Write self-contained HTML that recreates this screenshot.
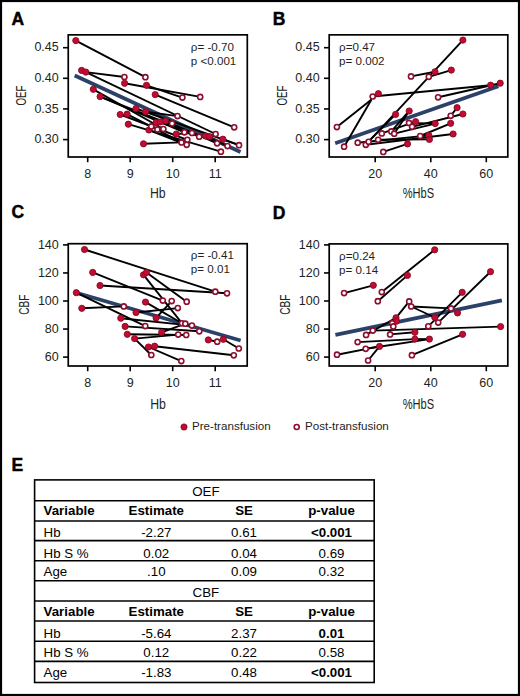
<!DOCTYPE html>
<html><head><meta charset="utf-8"><style>
html,body{margin:0;padding:0;background:#fff;}
svg{display:block;font-family:"Liberation Sans", sans-serif;}
</style></head><body>
<svg width="520" height="696" viewBox="0 0 520 696">
<rect width="520" height="696" fill="#fff"/>
<rect x="1" y="1" width="518" height="694" fill="none" stroke="#000" stroke-width="2.2"/>
<text x="11.4" y="24.9" font-size="17.5" text-anchor="start" font-weight="bold" fill="#000" stroke="#000" stroke-width="0.45">A</text>
<text x="272.7" y="24.8" font-size="17.5" text-anchor="start" font-weight="bold" fill="#000" stroke="#000" stroke-width="0.45">B</text>
<text x="11.4" y="218.0" font-size="17.5" text-anchor="start" font-weight="bold" fill="#000" stroke="#000" stroke-width="0.45">C</text>
<text x="272.7" y="218.6" font-size="17.5" text-anchor="start" font-weight="bold" fill="#000" stroke="#000" stroke-width="0.45">D</text>
<text x="11.4" y="471.4" font-size="17.5" text-anchor="start" font-weight="bold" fill="#000" stroke="#000" stroke-width="0.45">E</text>
<line x1="63.05" y1="47.7" x2="68.25" y2="47.7" stroke="#000" stroke-width="1.6"/>
<text x="58.75" y="51.3" font-size="12.5" text-anchor="end" font-weight="normal" fill="#231f20" >0.45</text>
<line x1="63.05" y1="78.3" x2="68.25" y2="78.3" stroke="#000" stroke-width="1.6"/>
<text x="58.75" y="81.9" font-size="12.5" text-anchor="end" font-weight="normal" fill="#231f20" >0.40</text>
<line x1="63.05" y1="108.95" x2="68.25" y2="108.95" stroke="#000" stroke-width="1.6"/>
<text x="58.75" y="112.55" font-size="12.5" text-anchor="end" font-weight="normal" fill="#231f20" >0.35</text>
<line x1="63.05" y1="139.6" x2="68.25" y2="139.6" stroke="#000" stroke-width="1.6"/>
<text x="58.75" y="143.2" font-size="12.5" text-anchor="end" font-weight="normal" fill="#231f20" >0.30</text>
<line x1="87.7" y1="157.0" x2="87.7" y2="162.2" stroke="#000" stroke-width="1.6"/>
<text x="87.7" y="178.0" font-size="12.5" text-anchor="middle" font-weight="normal" fill="#231f20" >8</text>
<line x1="130.2" y1="157.0" x2="130.2" y2="162.2" stroke="#000" stroke-width="1.6"/>
<text x="130.2" y="178.0" font-size="12.5" text-anchor="middle" font-weight="normal" fill="#231f20" >9</text>
<line x1="172.7" y1="157.0" x2="172.7" y2="162.2" stroke="#000" stroke-width="1.6"/>
<text x="172.7" y="178.0" font-size="12.5" text-anchor="middle" font-weight="normal" fill="#231f20" >10</text>
<line x1="215.2" y1="157.0" x2="215.2" y2="162.2" stroke="#000" stroke-width="1.6"/>
<text x="215.2" y="178.0" font-size="12.5" text-anchor="middle" font-weight="normal" fill="#231f20" >11</text>
<text x="0" y="0" font-size="15" text-anchor="middle" fill="#231f20" transform="translate(157.75,198.4) scale(0.82,1)">Hb</text>
<text x="0" y="0" font-size="15.5" text-anchor="middle" fill="#231f20" transform="translate(26.3,95.5) rotate(-90) scale(0.63,1)">OEF</text>
<text x="190.85" y="51.15" font-size="11.6" text-anchor="start" font-weight="normal" fill="#231f20" >ρ= -0.70</text>
<text x="190.85" y="65.05" font-size="11.6" text-anchor="start" font-weight="normal" fill="#231f20" >p &lt;0.001</text>
<line x1="324.0" y1="47.7" x2="329.2" y2="47.7" stroke="#000" stroke-width="1.6"/>
<text x="319.7" y="51.3" font-size="12.5" text-anchor="end" font-weight="normal" fill="#231f20" >0.45</text>
<line x1="324.0" y1="78.3" x2="329.2" y2="78.3" stroke="#000" stroke-width="1.6"/>
<text x="319.7" y="81.9" font-size="12.5" text-anchor="end" font-weight="normal" fill="#231f20" >0.40</text>
<line x1="324.0" y1="108.95" x2="329.2" y2="108.95" stroke="#000" stroke-width="1.6"/>
<text x="319.7" y="112.55" font-size="12.5" text-anchor="end" font-weight="normal" fill="#231f20" >0.35</text>
<line x1="324.0" y1="139.6" x2="329.2" y2="139.6" stroke="#000" stroke-width="1.6"/>
<text x="319.7" y="143.2" font-size="12.5" text-anchor="end" font-weight="normal" fill="#231f20" >0.30</text>
<line x1="375.2" y1="157.0" x2="375.2" y2="162.2" stroke="#000" stroke-width="1.6"/>
<text x="375.2" y="178.0" font-size="12.5" text-anchor="middle" font-weight="normal" fill="#231f20" >20</text>
<line x1="430.8" y1="157.0" x2="430.8" y2="162.2" stroke="#000" stroke-width="1.6"/>
<text x="430.8" y="178.0" font-size="12.5" text-anchor="middle" font-weight="normal" fill="#231f20" >40</text>
<line x1="486.3" y1="157.0" x2="486.3" y2="162.2" stroke="#000" stroke-width="1.6"/>
<text x="486.3" y="178.0" font-size="12.5" text-anchor="middle" font-weight="normal" fill="#231f20" >60</text>
<text x="0" y="0" font-size="15" text-anchor="middle" fill="#231f20" transform="translate(418.4,198.4) scale(0.74,1)">%HbS</text>
<text x="0" y="0" font-size="15.5" text-anchor="middle" fill="#231f20" transform="translate(287.3,95.5) rotate(-90) scale(0.63,1)">OEF</text>
<text x="339.1" y="51.15" font-size="11.6" text-anchor="start" font-weight="normal" fill="#231f20" >ρ=0.47</text>
<text x="339.1" y="65.05" font-size="11.6" text-anchor="start" font-weight="normal" fill="#231f20" >p= 0.002</text>
<line x1="63.05" y1="244.9" x2="68.25" y2="244.9" stroke="#000" stroke-width="1.6"/>
<text x="58.75" y="248.5" font-size="12.5" text-anchor="end" font-weight="normal" fill="#231f20" >140</text>
<line x1="63.05" y1="272.95" x2="68.25" y2="272.95" stroke="#000" stroke-width="1.6"/>
<text x="58.75" y="276.55" font-size="12.5" text-anchor="end" font-weight="normal" fill="#231f20" >120</text>
<line x1="63.05" y1="301.0" x2="68.25" y2="301.0" stroke="#000" stroke-width="1.6"/>
<text x="58.75" y="304.6" font-size="12.5" text-anchor="end" font-weight="normal" fill="#231f20" >100</text>
<line x1="63.05" y1="329.05" x2="68.25" y2="329.05" stroke="#000" stroke-width="1.6"/>
<text x="58.75" y="332.65" font-size="12.5" text-anchor="end" font-weight="normal" fill="#231f20" >80</text>
<line x1="63.05" y1="357.1" x2="68.25" y2="357.1" stroke="#000" stroke-width="1.6"/>
<text x="58.75" y="360.7" font-size="12.5" text-anchor="end" font-weight="normal" fill="#231f20" >60</text>
<line x1="87.7" y1="366.0" x2="87.7" y2="371.2" stroke="#000" stroke-width="1.6"/>
<text x="87.7" y="387.0" font-size="12.5" text-anchor="middle" font-weight="normal" fill="#231f20" >8</text>
<line x1="130.2" y1="366.0" x2="130.2" y2="371.2" stroke="#000" stroke-width="1.6"/>
<text x="130.2" y="387.0" font-size="12.5" text-anchor="middle" font-weight="normal" fill="#231f20" >9</text>
<line x1="172.7" y1="366.0" x2="172.7" y2="371.2" stroke="#000" stroke-width="1.6"/>
<text x="172.7" y="387.0" font-size="12.5" text-anchor="middle" font-weight="normal" fill="#231f20" >10</text>
<line x1="215.2" y1="366.0" x2="215.2" y2="371.2" stroke="#000" stroke-width="1.6"/>
<text x="215.2" y="387.0" font-size="12.5" text-anchor="middle" font-weight="normal" fill="#231f20" >11</text>
<text x="0" y="0" font-size="15" text-anchor="middle" fill="#231f20" transform="translate(158.0,408.6) scale(0.82,1)">Hb</text>
<text x="0" y="0" font-size="15.5" text-anchor="middle" fill="#231f20" transform="translate(29.3,304.75) rotate(-90) scale(0.65,1)">CBF</text>
<text x="190.85" y="259.4" font-size="11.6" text-anchor="start" font-weight="normal" fill="#231f20" >ρ= -0.41</text>
<text x="190.85" y="273.3" font-size="11.6" text-anchor="start" font-weight="normal" fill="#231f20" >p= 0.01</text>
<line x1="324.0" y1="244.9" x2="329.2" y2="244.9" stroke="#000" stroke-width="1.6"/>
<text x="319.7" y="248.5" font-size="12.5" text-anchor="end" font-weight="normal" fill="#231f20" >140</text>
<line x1="324.0" y1="272.95" x2="329.2" y2="272.95" stroke="#000" stroke-width="1.6"/>
<text x="319.7" y="276.55" font-size="12.5" text-anchor="end" font-weight="normal" fill="#231f20" >120</text>
<line x1="324.0" y1="301.0" x2="329.2" y2="301.0" stroke="#000" stroke-width="1.6"/>
<text x="319.7" y="304.6" font-size="12.5" text-anchor="end" font-weight="normal" fill="#231f20" >100</text>
<line x1="324.0" y1="329.05" x2="329.2" y2="329.05" stroke="#000" stroke-width="1.6"/>
<text x="319.7" y="332.65" font-size="12.5" text-anchor="end" font-weight="normal" fill="#231f20" >80</text>
<line x1="324.0" y1="357.1" x2="329.2" y2="357.1" stroke="#000" stroke-width="1.6"/>
<text x="319.7" y="360.7" font-size="12.5" text-anchor="end" font-weight="normal" fill="#231f20" >60</text>
<line x1="375.2" y1="366.0" x2="375.2" y2="371.2" stroke="#000" stroke-width="1.6"/>
<text x="375.2" y="387.0" font-size="12.5" text-anchor="middle" font-weight="normal" fill="#231f20" >20</text>
<line x1="430.8" y1="366.0" x2="430.8" y2="371.2" stroke="#000" stroke-width="1.6"/>
<text x="430.8" y="387.0" font-size="12.5" text-anchor="middle" font-weight="normal" fill="#231f20" >40</text>
<line x1="486.3" y1="366.0" x2="486.3" y2="371.2" stroke="#000" stroke-width="1.6"/>
<text x="486.3" y="387.0" font-size="12.5" text-anchor="middle" font-weight="normal" fill="#231f20" >60</text>
<text x="0" y="0" font-size="15" text-anchor="middle" fill="#231f20" transform="translate(418.4,408.6) scale(0.74,1)">%HbS</text>
<text x="0" y="0" font-size="15.5" text-anchor="middle" fill="#231f20" transform="translate(290.3,304.75) rotate(-90) scale(0.65,1)">CBF</text>
<text x="339.1" y="259.6" font-size="11.6" text-anchor="start" font-weight="normal" fill="#231f20" >ρ=0.24</text>
<text x="339.1" y="273.5" font-size="11.6" text-anchor="start" font-weight="normal" fill="#231f20" >p= 0.14</text>
<line x1="74.7" y1="75.6" x2="240.5" y2="151.9" stroke="#2b4168" stroke-width="3.8"/>
<line x1="75.8" y1="40.6" x2="145.4" y2="77.2" stroke="#000" stroke-width="1.9"/>
<line x1="85.8" y1="72.1" x2="124.4" y2="77.0" stroke="#000" stroke-width="1.9"/>
<line x1="85.8" y1="72.1" x2="215.6" y2="134.0" stroke="#000" stroke-width="1.9"/>
<line x1="124.6" y1="83.3" x2="200.2" y2="96.9" stroke="#000" stroke-width="1.9"/>
<line x1="146.5" y1="85.3" x2="182.4" y2="97.6" stroke="#000" stroke-width="1.9"/>
<line x1="155.2" y1="94.6" x2="234.2" y2="127.3" stroke="#000" stroke-width="1.9"/>
<line x1="93.3" y1="89.3" x2="163.4" y2="129.0" stroke="#000" stroke-width="1.9"/>
<line x1="100.1" y1="96.6" x2="184.4" y2="132.3" stroke="#000" stroke-width="1.9"/>
<line x1="100.1" y1="96.6" x2="192.0" y2="133.0" stroke="#000" stroke-width="1.9"/>
<line x1="135.9" y1="108.5" x2="239.0" y2="145.2" stroke="#000" stroke-width="1.9"/>
<line x1="145.6" y1="111.7" x2="177.5" y2="116.1" stroke="#000" stroke-width="1.9"/>
<line x1="120.2" y1="114.5" x2="187.3" y2="139.8" stroke="#000" stroke-width="1.9"/>
<line x1="127.1" y1="114.1" x2="181.5" y2="142.4" stroke="#000" stroke-width="1.9"/>
<line x1="128.3" y1="124.2" x2="220.9" y2="151.7" stroke="#000" stroke-width="1.9"/>
<line x1="148.9" y1="130.0" x2="186.7" y2="144.8" stroke="#000" stroke-width="1.9"/>
<line x1="143.5" y1="143.8" x2="181.5" y2="142.4" stroke="#000" stroke-width="1.9"/>
<line x1="156.1" y1="122.5" x2="172.1" y2="123.4" stroke="#000" stroke-width="1.9"/>
<line x1="160.5" y1="121.9" x2="199.2" y2="136.7" stroke="#000" stroke-width="1.9"/>
<line x1="165.6" y1="120.8" x2="217.1" y2="143.3" stroke="#000" stroke-width="1.9"/>
<line x1="176.3" y1="134.0" x2="192.0" y2="133.0" stroke="#000" stroke-width="1.9"/>
<line x1="209.5" y1="136.6" x2="215.6" y2="134.0" stroke="#000" stroke-width="1.9"/>
<line x1="205.5" y1="136.0" x2="227.5" y2="146.1" stroke="#000" stroke-width="1.9"/>
<line x1="222.9" y1="139.2" x2="239.0" y2="145.2" stroke="#000" stroke-width="1.9"/>
<circle cx="75.8" cy="40.6" r="3.1" fill="#c20b33" stroke="#86091f" stroke-width="0.9"/>
<circle cx="81.6" cy="70.4" r="3.1" fill="#c20b33" stroke="#86091f" stroke-width="0.9"/>
<circle cx="85.8" cy="72.1" r="3.1" fill="#c20b33" stroke="#86091f" stroke-width="0.9"/>
<circle cx="93.3" cy="89.3" r="3.1" fill="#c20b33" stroke="#86091f" stroke-width="0.9"/>
<circle cx="100.1" cy="96.6" r="3.1" fill="#c20b33" stroke="#86091f" stroke-width="0.9"/>
<circle cx="124.6" cy="83.3" r="3.1" fill="#c20b33" stroke="#86091f" stroke-width="0.9"/>
<circle cx="146.5" cy="85.3" r="3.1" fill="#c20b33" stroke="#86091f" stroke-width="0.9"/>
<circle cx="155.2" cy="94.6" r="3.1" fill="#c20b33" stroke="#86091f" stroke-width="0.9"/>
<circle cx="135.9" cy="108.5" r="3.1" fill="#c20b33" stroke="#86091f" stroke-width="0.9"/>
<circle cx="145.6" cy="111.7" r="3.1" fill="#c20b33" stroke="#86091f" stroke-width="0.9"/>
<circle cx="120.2" cy="114.5" r="3.1" fill="#c20b33" stroke="#86091f" stroke-width="0.9"/>
<circle cx="127.1" cy="114.1" r="3.1" fill="#c20b33" stroke="#86091f" stroke-width="0.9"/>
<circle cx="128.3" cy="124.2" r="3.1" fill="#c20b33" stroke="#86091f" stroke-width="0.9"/>
<circle cx="148.9" cy="130.0" r="3.1" fill="#c20b33" stroke="#86091f" stroke-width="0.9"/>
<circle cx="143.5" cy="143.8" r="3.1" fill="#c20b33" stroke="#86091f" stroke-width="0.9"/>
<circle cx="156.1" cy="122.5" r="3.1" fill="#c20b33" stroke="#86091f" stroke-width="0.9"/>
<circle cx="160.5" cy="121.9" r="3.1" fill="#c20b33" stroke="#86091f" stroke-width="0.9"/>
<circle cx="165.6" cy="120.8" r="3.1" fill="#c20b33" stroke="#86091f" stroke-width="0.9"/>
<circle cx="176.3" cy="134.0" r="3.1" fill="#c20b33" stroke="#86091f" stroke-width="0.9"/>
<circle cx="205.5" cy="136.0" r="3.1" fill="#c20b33" stroke="#86091f" stroke-width="0.9"/>
<circle cx="209.5" cy="136.6" r="3.1" fill="#c20b33" stroke="#86091f" stroke-width="0.9"/>
<circle cx="222.9" cy="139.2" r="3.1" fill="#c20b33" stroke="#86091f" stroke-width="0.9"/>
<circle cx="124.4" cy="77.0" r="2.55" fill="#fff" stroke="#8c0f2f" stroke-width="1.6"/>
<circle cx="145.4" cy="77.2" r="2.55" fill="#fff" stroke="#8c0f2f" stroke-width="1.6"/>
<circle cx="182.4" cy="97.6" r="2.55" fill="#fff" stroke="#8c0f2f" stroke-width="1.6"/>
<circle cx="200.2" cy="96.9" r="2.55" fill="#fff" stroke="#8c0f2f" stroke-width="1.6"/>
<circle cx="177.5" cy="116.1" r="2.55" fill="#fff" stroke="#8c0f2f" stroke-width="1.6"/>
<circle cx="234.2" cy="127.3" r="2.55" fill="#fff" stroke="#8c0f2f" stroke-width="1.6"/>
<circle cx="172.1" cy="123.4" r="2.55" fill="#fff" stroke="#8c0f2f" stroke-width="1.6"/>
<circle cx="151.3" cy="126.4" r="2.55" fill="#fff" stroke="#8c0f2f" stroke-width="1.6"/>
<circle cx="157.4" cy="129.4" r="2.55" fill="#fff" stroke="#8c0f2f" stroke-width="1.6"/>
<circle cx="163.4" cy="129.0" r="2.55" fill="#fff" stroke="#8c0f2f" stroke-width="1.6"/>
<circle cx="184.4" cy="132.3" r="2.55" fill="#fff" stroke="#8c0f2f" stroke-width="1.6"/>
<circle cx="192.0" cy="133.0" r="2.55" fill="#fff" stroke="#8c0f2f" stroke-width="1.6"/>
<circle cx="199.2" cy="136.7" r="2.55" fill="#fff" stroke="#8c0f2f" stroke-width="1.6"/>
<circle cx="187.3" cy="139.8" r="2.55" fill="#fff" stroke="#8c0f2f" stroke-width="1.6"/>
<circle cx="181.5" cy="142.4" r="2.55" fill="#fff" stroke="#8c0f2f" stroke-width="1.6"/>
<circle cx="186.7" cy="144.8" r="2.55" fill="#fff" stroke="#8c0f2f" stroke-width="1.6"/>
<circle cx="215.6" cy="134.0" r="2.55" fill="#fff" stroke="#8c0f2f" stroke-width="1.6"/>
<circle cx="217.1" cy="143.3" r="2.55" fill="#fff" stroke="#8c0f2f" stroke-width="1.6"/>
<circle cx="227.5" cy="146.1" r="2.55" fill="#fff" stroke="#8c0f2f" stroke-width="1.6"/>
<circle cx="239.0" cy="145.2" r="2.55" fill="#fff" stroke="#8c0f2f" stroke-width="1.6"/>
<circle cx="220.9" cy="151.7" r="2.55" fill="#fff" stroke="#8c0f2f" stroke-width="1.6"/>
<line x1="335.2" y1="143.3" x2="498.4" y2="86.3" stroke="#2b4168" stroke-width="3.8"/>
<line x1="411.0" y1="76.4" x2="435.0" y2="71.8" stroke="#000" stroke-width="1.9"/>
<line x1="428.8" y1="76.8" x2="451.3" y2="70.1" stroke="#000" stroke-width="1.9"/>
<line x1="462.9" y1="40.1" x2="368.5" y2="141.8" stroke="#000" stroke-width="1.9"/>
<line x1="372.7" y1="96.5" x2="490.6" y2="85.2" stroke="#000" stroke-width="1.9"/>
<line x1="336.9" y1="127.1" x2="371.5" y2="99.5" stroke="#000" stroke-width="1.9"/>
<line x1="344.1" y1="146.7" x2="371.5" y2="99.5" stroke="#000" stroke-width="1.9"/>
<line x1="378.4" y1="93.7" x2="372.7" y2="96.5" stroke="#000" stroke-width="1.9"/>
<line x1="438.1" y1="97.3" x2="500.2" y2="83.2" stroke="#000" stroke-width="1.9"/>
<line x1="395.6" y1="114.4" x2="365.8" y2="144.2" stroke="#000" stroke-width="1.9"/>
<line x1="409.2" y1="111.0" x2="391.3" y2="131.4" stroke="#000" stroke-width="1.9"/>
<line x1="415.6" y1="121.7" x2="381.8" y2="133.4" stroke="#000" stroke-width="1.9"/>
<line x1="435.2" y1="123.6" x2="394.2" y2="133.7" stroke="#000" stroke-width="1.9"/>
<line x1="457.1" y1="107.7" x2="450.7" y2="115.8" stroke="#000" stroke-width="1.9"/>
<line x1="462.9" y1="114.0" x2="412.1" y2="126.8" stroke="#000" stroke-width="1.9"/>
<line x1="435.2" y1="123.6" x2="409.0" y2="122.9" stroke="#000" stroke-width="1.9"/>
<line x1="409.2" y1="111.0" x2="394.2" y2="133.7" stroke="#000" stroke-width="1.9"/>
<line x1="450.7" y1="123.3" x2="420.2" y2="136.0" stroke="#000" stroke-width="1.9"/>
<line x1="453.1" y1="134.0" x2="365.8" y2="144.8" stroke="#000" stroke-width="1.9"/>
<line x1="428.8" y1="135.4" x2="357.7" y2="142.7" stroke="#000" stroke-width="1.9"/>
<line x1="429.4" y1="139.4" x2="378.1" y2="139.8" stroke="#000" stroke-width="1.9"/>
<line x1="407.5" y1="143.9" x2="383.3" y2="151.9" stroke="#000" stroke-width="1.9"/>
<circle cx="462.9" cy="40.1" r="3.1" fill="#c20b33" stroke="#86091f" stroke-width="0.9"/>
<circle cx="435.0" cy="71.8" r="3.1" fill="#c20b33" stroke="#86091f" stroke-width="0.9"/>
<circle cx="451.3" cy="70.1" r="3.1" fill="#c20b33" stroke="#86091f" stroke-width="0.9"/>
<circle cx="378.4" cy="93.7" r="3.1" fill="#c20b33" stroke="#86091f" stroke-width="0.9"/>
<circle cx="490.6" cy="85.2" r="3.1" fill="#c20b33" stroke="#86091f" stroke-width="0.9"/>
<circle cx="500.2" cy="83.2" r="3.1" fill="#c20b33" stroke="#86091f" stroke-width="0.9"/>
<circle cx="395.6" cy="114.4" r="3.1" fill="#c20b33" stroke="#86091f" stroke-width="0.9"/>
<circle cx="409.2" cy="111.0" r="3.1" fill="#c20b33" stroke="#86091f" stroke-width="0.9"/>
<circle cx="457.1" cy="107.7" r="3.1" fill="#c20b33" stroke="#86091f" stroke-width="0.9"/>
<circle cx="462.9" cy="114.0" r="3.1" fill="#c20b33" stroke="#86091f" stroke-width="0.9"/>
<circle cx="415.6" cy="121.7" r="3.1" fill="#c20b33" stroke="#86091f" stroke-width="0.9"/>
<circle cx="435.2" cy="123.6" r="3.1" fill="#c20b33" stroke="#86091f" stroke-width="0.9"/>
<circle cx="450.7" cy="123.3" r="3.1" fill="#c20b33" stroke="#86091f" stroke-width="0.9"/>
<circle cx="428.8" cy="135.4" r="3.1" fill="#c20b33" stroke="#86091f" stroke-width="0.9"/>
<circle cx="429.4" cy="139.4" r="3.1" fill="#c20b33" stroke="#86091f" stroke-width="0.9"/>
<circle cx="453.1" cy="134.0" r="3.1" fill="#c20b33" stroke="#86091f" stroke-width="0.9"/>
<circle cx="407.5" cy="143.9" r="3.1" fill="#c20b33" stroke="#86091f" stroke-width="0.9"/>
<circle cx="411.0" cy="76.4" r="2.55" fill="#fff" stroke="#8c0f2f" stroke-width="1.6"/>
<circle cx="428.8" cy="76.8" r="2.55" fill="#fff" stroke="#8c0f2f" stroke-width="1.6"/>
<circle cx="372.7" cy="96.5" r="2.55" fill="#fff" stroke="#8c0f2f" stroke-width="1.6"/>
<circle cx="438.1" cy="97.3" r="2.55" fill="#fff" stroke="#8c0f2f" stroke-width="1.6"/>
<circle cx="336.9" cy="127.1" r="2.55" fill="#fff" stroke="#8c0f2f" stroke-width="1.6"/>
<circle cx="344.1" cy="146.7" r="2.55" fill="#fff" stroke="#8c0f2f" stroke-width="1.6"/>
<circle cx="357.7" cy="142.7" r="2.55" fill="#fff" stroke="#8c0f2f" stroke-width="1.6"/>
<circle cx="365.8" cy="144.8" r="2.55" fill="#fff" stroke="#8c0f2f" stroke-width="1.6"/>
<circle cx="368.6" cy="141.8" r="2.55" fill="#fff" stroke="#8c0f2f" stroke-width="1.6"/>
<circle cx="378.1" cy="139.8" r="2.55" fill="#fff" stroke="#8c0f2f" stroke-width="1.6"/>
<circle cx="381.8" cy="133.4" r="2.55" fill="#fff" stroke="#8c0f2f" stroke-width="1.6"/>
<circle cx="391.3" cy="131.4" r="2.55" fill="#fff" stroke="#8c0f2f" stroke-width="1.6"/>
<circle cx="394.2" cy="133.7" r="2.55" fill="#fff" stroke="#8c0f2f" stroke-width="1.6"/>
<circle cx="409.0" cy="122.9" r="2.55" fill="#fff" stroke="#8c0f2f" stroke-width="1.6"/>
<circle cx="412.1" cy="126.8" r="2.55" fill="#fff" stroke="#8c0f2f" stroke-width="1.6"/>
<circle cx="420.2" cy="136.0" r="2.55" fill="#fff" stroke="#8c0f2f" stroke-width="1.6"/>
<circle cx="450.7" cy="115.8" r="2.55" fill="#fff" stroke="#8c0f2f" stroke-width="1.6"/>
<circle cx="383.3" cy="151.9" r="2.55" fill="#fff" stroke="#8c0f2f" stroke-width="1.6"/>
<line x1="76.3" y1="292.7" x2="240.6" y2="340.5" stroke="#2b4168" stroke-width="3.8"/>
<line x1="84.5" y1="249.5" x2="215.3" y2="291.7" stroke="#000" stroke-width="1.9"/>
<line x1="92.7" y1="272.4" x2="162.8" y2="300.6" stroke="#000" stroke-width="1.9"/>
<line x1="100.0" y1="285.5" x2="227.0" y2="293.3" stroke="#000" stroke-width="1.9"/>
<line x1="76.3" y1="292.7" x2="145.3" y2="326.1" stroke="#000" stroke-width="1.9"/>
<line x1="81.8" y1="308.3" x2="123.8" y2="306.4" stroke="#000" stroke-width="1.9"/>
<line x1="143.5" y1="274.8" x2="181.5" y2="322.7" stroke="#000" stroke-width="1.9"/>
<line x1="146.5" y1="272.5" x2="186.7" y2="301.7" stroke="#000" stroke-width="1.9"/>
<line x1="136.0" y1="312.5" x2="177.8" y2="308.1" stroke="#000" stroke-width="1.9"/>
<line x1="145.5" y1="302.1" x2="182.0" y2="323.3" stroke="#000" stroke-width="1.9"/>
<line x1="156.1" y1="317.9" x2="171.7" y2="301.1" stroke="#000" stroke-width="1.9"/>
<line x1="120.8" y1="318.2" x2="191.9" y2="325.6" stroke="#000" stroke-width="1.9"/>
<line x1="125.1" y1="326.4" x2="199.3" y2="331.3" stroke="#000" stroke-width="1.9"/>
<line x1="127.3" y1="334.3" x2="186.2" y2="335.0" stroke="#000" stroke-width="1.9"/>
<line x1="134.6" y1="338.6" x2="178.2" y2="334.6" stroke="#000" stroke-width="1.9"/>
<line x1="134.6" y1="338.6" x2="151.3" y2="355.0" stroke="#000" stroke-width="1.9"/>
<line x1="161.7" y1="332.3" x2="185.3" y2="323.7" stroke="#000" stroke-width="1.9"/>
<line x1="148.5" y1="347.0" x2="181.3" y2="361.1" stroke="#000" stroke-width="1.9"/>
<line x1="154.6" y1="346.2" x2="233.8" y2="355.3" stroke="#000" stroke-width="1.9"/>
<line x1="208.3" y1="339.9" x2="217.2" y2="341.7" stroke="#000" stroke-width="1.9"/>
<line x1="223.3" y1="339.3" x2="238.8" y2="348.5" stroke="#000" stroke-width="1.9"/>
<circle cx="84.5" cy="249.5" r="3.1" fill="#c20b33" stroke="#86091f" stroke-width="0.9"/>
<circle cx="92.7" cy="272.4" r="3.1" fill="#c20b33" stroke="#86091f" stroke-width="0.9"/>
<circle cx="100.0" cy="285.5" r="3.1" fill="#c20b33" stroke="#86091f" stroke-width="0.9"/>
<circle cx="76.3" cy="292.7" r="3.1" fill="#c20b33" stroke="#86091f" stroke-width="0.9"/>
<circle cx="81.8" cy="308.3" r="3.1" fill="#c20b33" stroke="#86091f" stroke-width="0.9"/>
<circle cx="143.5" cy="274.8" r="3.1" fill="#c20b33" stroke="#86091f" stroke-width="0.9"/>
<circle cx="146.5" cy="272.5" r="3.1" fill="#c20b33" stroke="#86091f" stroke-width="0.9"/>
<circle cx="145.5" cy="302.1" r="3.1" fill="#c20b33" stroke="#86091f" stroke-width="0.9"/>
<circle cx="136.0" cy="312.5" r="3.1" fill="#c20b33" stroke="#86091f" stroke-width="0.9"/>
<circle cx="156.1" cy="317.9" r="3.1" fill="#c20b33" stroke="#86091f" stroke-width="0.9"/>
<circle cx="120.8" cy="318.2" r="3.1" fill="#c20b33" stroke="#86091f" stroke-width="0.9"/>
<circle cx="125.1" cy="326.4" r="3.1" fill="#c20b33" stroke="#86091f" stroke-width="0.9"/>
<circle cx="127.3" cy="334.3" r="3.1" fill="#c20b33" stroke="#86091f" stroke-width="0.9"/>
<circle cx="134.6" cy="338.6" r="3.1" fill="#c20b33" stroke="#86091f" stroke-width="0.9"/>
<circle cx="161.7" cy="332.3" r="3.1" fill="#c20b33" stroke="#86091f" stroke-width="0.9"/>
<circle cx="148.5" cy="347.0" r="3.1" fill="#c20b33" stroke="#86091f" stroke-width="0.9"/>
<circle cx="154.6" cy="346.2" r="3.1" fill="#c20b33" stroke="#86091f" stroke-width="0.9"/>
<circle cx="208.3" cy="339.9" r="3.1" fill="#c20b33" stroke="#86091f" stroke-width="0.9"/>
<circle cx="223.3" cy="339.3" r="3.1" fill="#c20b33" stroke="#86091f" stroke-width="0.9"/>
<circle cx="123.8" cy="306.4" r="2.55" fill="#fff" stroke="#8c0f2f" stroke-width="1.6"/>
<circle cx="162.8" cy="300.6" r="2.55" fill="#fff" stroke="#8c0f2f" stroke-width="1.6"/>
<circle cx="171.7" cy="301.1" r="2.55" fill="#fff" stroke="#8c0f2f" stroke-width="1.6"/>
<circle cx="186.7" cy="301.7" r="2.55" fill="#fff" stroke="#8c0f2f" stroke-width="1.6"/>
<circle cx="177.8" cy="308.1" r="2.55" fill="#fff" stroke="#8c0f2f" stroke-width="1.6"/>
<circle cx="145.3" cy="326.1" r="2.55" fill="#fff" stroke="#8c0f2f" stroke-width="1.6"/>
<circle cx="182.0" cy="323.3" r="2.55" fill="#fff" stroke="#8c0f2f" stroke-width="1.6"/>
<circle cx="185.3" cy="323.7" r="2.55" fill="#fff" stroke="#8c0f2f" stroke-width="1.6"/>
<circle cx="191.9" cy="325.6" r="2.55" fill="#fff" stroke="#8c0f2f" stroke-width="1.6"/>
<circle cx="199.3" cy="331.3" r="2.55" fill="#fff" stroke="#8c0f2f" stroke-width="1.6"/>
<circle cx="178.2" cy="334.6" r="2.55" fill="#fff" stroke="#8c0f2f" stroke-width="1.6"/>
<circle cx="186.2" cy="335.0" r="2.55" fill="#fff" stroke="#8c0f2f" stroke-width="1.6"/>
<circle cx="215.3" cy="291.7" r="2.55" fill="#fff" stroke="#8c0f2f" stroke-width="1.6"/>
<circle cx="227.0" cy="293.3" r="2.55" fill="#fff" stroke="#8c0f2f" stroke-width="1.6"/>
<circle cx="217.2" cy="341.7" r="2.55" fill="#fff" stroke="#8c0f2f" stroke-width="1.6"/>
<circle cx="238.8" cy="348.5" r="2.55" fill="#fff" stroke="#8c0f2f" stroke-width="1.6"/>
<circle cx="233.8" cy="355.3" r="2.55" fill="#fff" stroke="#8c0f2f" stroke-width="1.6"/>
<circle cx="151.3" cy="355.0" r="2.55" fill="#fff" stroke="#8c0f2f" stroke-width="1.6"/>
<circle cx="181.3" cy="361.1" r="2.55" fill="#fff" stroke="#8c0f2f" stroke-width="1.6"/>
<line x1="335.4" y1="334.9" x2="501.9" y2="300.4" stroke="#2b4168" stroke-width="3.8"/>
<line x1="373.3" y1="285.3" x2="344.1" y2="293.1" stroke="#000" stroke-width="1.9"/>
<line x1="434.7" y1="249.8" x2="381.8" y2="292.1" stroke="#000" stroke-width="1.9"/>
<line x1="407.4" y1="275.4" x2="377.8" y2="301.2" stroke="#000" stroke-width="1.9"/>
<line x1="490.5" y1="271.7" x2="438.2" y2="322.6" stroke="#000" stroke-width="1.9"/>
<line x1="462.2" y1="292.3" x2="428.3" y2="326.3" stroke="#000" stroke-width="1.9"/>
<line x1="411.2" y1="306.5" x2="451.0" y2="308.4" stroke="#000" stroke-width="1.9"/>
<line x1="434.8" y1="317.5" x2="411.2" y2="306.5" stroke="#000" stroke-width="1.9"/>
<line x1="396.0" y1="317.8" x2="409.2" y2="301.4" stroke="#000" stroke-width="1.9"/>
<line x1="414.9" y1="332.3" x2="390.1" y2="334.4" stroke="#000" stroke-width="1.9"/>
<line x1="414.9" y1="339.1" x2="357.6" y2="342.1" stroke="#000" stroke-width="1.9"/>
<line x1="429.4" y1="339.1" x2="365.7" y2="348.8" stroke="#000" stroke-width="1.9"/>
<line x1="414.9" y1="339.1" x2="429.4" y2="339.1" stroke="#000" stroke-width="1.9"/>
<line x1="462.6" y1="334.3" x2="411.9" y2="355.2" stroke="#000" stroke-width="1.9"/>
<line x1="500.6" y1="326.6" x2="372.8" y2="330.6" stroke="#000" stroke-width="1.9"/>
<line x1="379.5" y1="346.4" x2="337.0" y2="354.7" stroke="#000" stroke-width="1.9"/>
<line x1="379.5" y1="346.4" x2="368.1" y2="360.5" stroke="#000" stroke-width="1.9"/>
<line x1="396.0" y1="317.8" x2="366.1" y2="334.9" stroke="#000" stroke-width="1.9"/>
<line x1="396.5" y1="321.2" x2="393.3" y2="326.4" stroke="#000" stroke-width="1.9"/>
<circle cx="434.7" cy="249.8" r="3.1" fill="#c20b33" stroke="#86091f" stroke-width="0.9"/>
<circle cx="373.3" cy="285.3" r="3.1" fill="#c20b33" stroke="#86091f" stroke-width="0.9"/>
<circle cx="407.4" cy="275.4" r="3.1" fill="#c20b33" stroke="#86091f" stroke-width="0.9"/>
<circle cx="490.5" cy="271.7" r="3.1" fill="#c20b33" stroke="#86091f" stroke-width="0.9"/>
<circle cx="462.2" cy="292.3" r="3.1" fill="#c20b33" stroke="#86091f" stroke-width="0.9"/>
<circle cx="457.5" cy="312.9" r="3.1" fill="#c20b33" stroke="#86091f" stroke-width="0.9"/>
<circle cx="434.8" cy="317.5" r="3.1" fill="#c20b33" stroke="#86091f" stroke-width="0.9"/>
<circle cx="396.0" cy="317.8" r="3.1" fill="#c20b33" stroke="#86091f" stroke-width="0.9"/>
<circle cx="396.5" cy="321.2" r="3.1" fill="#c20b33" stroke="#86091f" stroke-width="0.9"/>
<circle cx="414.9" cy="332.3" r="3.1" fill="#c20b33" stroke="#86091f" stroke-width="0.9"/>
<circle cx="414.9" cy="339.1" r="3.1" fill="#c20b33" stroke="#86091f" stroke-width="0.9"/>
<circle cx="429.4" cy="339.1" r="3.1" fill="#c20b33" stroke="#86091f" stroke-width="0.9"/>
<circle cx="462.6" cy="334.3" r="3.1" fill="#c20b33" stroke="#86091f" stroke-width="0.9"/>
<circle cx="500.6" cy="326.6" r="3.1" fill="#c20b33" stroke="#86091f" stroke-width="0.9"/>
<circle cx="379.5" cy="346.4" r="3.1" fill="#c20b33" stroke="#86091f" stroke-width="0.9"/>
<circle cx="344.1" cy="293.1" r="2.55" fill="#fff" stroke="#8c0f2f" stroke-width="1.6"/>
<circle cx="381.8" cy="292.1" r="2.55" fill="#fff" stroke="#8c0f2f" stroke-width="1.6"/>
<circle cx="377.8" cy="301.2" r="2.55" fill="#fff" stroke="#8c0f2f" stroke-width="1.6"/>
<circle cx="409.2" cy="301.4" r="2.55" fill="#fff" stroke="#8c0f2f" stroke-width="1.6"/>
<circle cx="411.2" cy="306.5" r="2.55" fill="#fff" stroke="#8c0f2f" stroke-width="1.6"/>
<circle cx="451.0" cy="308.4" r="2.55" fill="#fff" stroke="#8c0f2f" stroke-width="1.6"/>
<circle cx="438.2" cy="322.6" r="2.55" fill="#fff" stroke="#8c0f2f" stroke-width="1.6"/>
<circle cx="428.3" cy="326.3" r="2.55" fill="#fff" stroke="#8c0f2f" stroke-width="1.6"/>
<circle cx="392.2" cy="323.2" r="2.55" fill="#fff" stroke="#8c0f2f" stroke-width="1.6"/>
<circle cx="393.3" cy="326.4" r="2.55" fill="#fff" stroke="#8c0f2f" stroke-width="1.6"/>
<circle cx="390.1" cy="334.4" r="2.55" fill="#fff" stroke="#8c0f2f" stroke-width="1.6"/>
<circle cx="372.8" cy="330.6" r="2.55" fill="#fff" stroke="#8c0f2f" stroke-width="1.6"/>
<circle cx="366.1" cy="334.9" r="2.55" fill="#fff" stroke="#8c0f2f" stroke-width="1.6"/>
<circle cx="357.6" cy="342.1" r="2.55" fill="#fff" stroke="#8c0f2f" stroke-width="1.6"/>
<circle cx="365.7" cy="348.8" r="2.55" fill="#fff" stroke="#8c0f2f" stroke-width="1.6"/>
<circle cx="337.0" cy="354.7" r="2.55" fill="#fff" stroke="#8c0f2f" stroke-width="1.6"/>
<circle cx="368.1" cy="360.5" r="2.55" fill="#fff" stroke="#8c0f2f" stroke-width="1.6"/>
<circle cx="411.9" cy="355.2" r="2.55" fill="#fff" stroke="#8c0f2f" stroke-width="1.6"/>
<rect x="68.25" y="34.85" width="179.05" height="122.15" fill="none" stroke="#000" stroke-width="1.7"/>
<rect x="329.2" y="34.85" width="178.6" height="122.15" fill="none" stroke="#000" stroke-width="1.7"/>
<rect x="68.25" y="243.7" width="178.95" height="122.3" fill="none" stroke="#000" stroke-width="1.7"/>
<rect x="329.2" y="243.9" width="178.6" height="122.1" fill="none" stroke="#000" stroke-width="1.7"/>
<circle cx="184.0" cy="427" r="3.1" fill="#c20b33" stroke="#86091f" stroke-width="0.9"/>
<text x="192.0" y="429.7" font-size="11.6" text-anchor="start" font-weight="normal" fill="#231f20" >Pre-transfusion</text>
<circle cx="296.7" cy="427" r="2.5" fill="#fff" stroke="#8c0f2f" stroke-width="1.6"/>
<text x="305.0" y="429.7" font-size="11.6" text-anchor="start" font-weight="normal" fill="#231f20" >Post-transfusion</text>
<rect x="34.6" y="479.9" width="339.6" height="202.6" fill="none" stroke="#000" stroke-width="1.6"/>
<line x1="34.6" y1="500.7" x2="374.2" y2="500.7" stroke="#000" stroke-width="1.6"/>
<line x1="34.6" y1="521.0" x2="374.2" y2="521.0" stroke="#000" stroke-width="1.6"/>
<line x1="34.6" y1="540.6" x2="374.2" y2="540.6" stroke="#000" stroke-width="1.6"/>
<line x1="34.6" y1="560.8" x2="374.2" y2="560.8" stroke="#000" stroke-width="1.6"/>
<line x1="34.6" y1="580.7" x2="374.2" y2="580.7" stroke="#000" stroke-width="1.6"/>
<line x1="34.6" y1="601.0" x2="374.2" y2="601.0" stroke="#000" stroke-width="1.6"/>
<line x1="34.6" y1="621.0" x2="374.2" y2="621.0" stroke="#000" stroke-width="1.6"/>
<line x1="34.6" y1="641.2" x2="374.2" y2="641.2" stroke="#000" stroke-width="1.6"/>
<line x1="34.6" y1="661.4" x2="374.2" y2="661.4" stroke="#000" stroke-width="1.6"/>
<text x="205.9" y="496.2" font-size="13.3" text-anchor="middle" font-weight="normal" fill="#000" >OEF</text>
<text x="43.6" y="514.6" font-size="13.3" text-anchor="start" font-weight="bold" fill="#000" >Variable</text>
<text x="156.3" y="514.6" font-size="13.3" text-anchor="middle" font-weight="bold" fill="#000" >Estimate</text>
<text x="244.0" y="514.6" font-size="13.3" text-anchor="middle" font-weight="bold" fill="#000" >SE</text>
<text x="331.5" y="514.6" font-size="13.3" text-anchor="middle" font-weight="bold" fill="#000" >p-value</text>
<text x="43.6" y="537.3" font-size="13.3" text-anchor="start" font-weight="normal" fill="#000" >Hb</text>
<text x="156.3" y="537.3" font-size="13.3" text-anchor="middle" font-weight="normal" fill="#000" >-2.27</text>
<text x="244.0" y="537.3" font-size="13.3" text-anchor="middle" font-weight="normal" fill="#000" >0.61</text>
<text x="331.5" y="537.3" font-size="13.3" text-anchor="middle" font-weight="bold" fill="#000" >&lt;0.001</text>
<text x="43.6" y="557.5" font-size="13.3" text-anchor="start" font-weight="normal" fill="#000" >Hb S %</text>
<text x="156.3" y="557.5" font-size="13.3" text-anchor="middle" font-weight="normal" fill="#000" >0.02</text>
<text x="244.0" y="557.5" font-size="13.3" text-anchor="middle" font-weight="normal" fill="#000" >0.04</text>
<text x="331.5" y="557.5" font-size="13.3" text-anchor="middle" font-weight="normal" fill="#000" >0.69</text>
<text x="43.6" y="575.7" font-size="13.3" text-anchor="start" font-weight="normal" fill="#000" >Age</text>
<text x="156.3" y="575.7" font-size="13.3" text-anchor="middle" font-weight="normal" fill="#000" >.10</text>
<text x="244.0" y="575.7" font-size="13.3" text-anchor="middle" font-weight="normal" fill="#000" >0.09</text>
<text x="331.5" y="575.7" font-size="13.3" text-anchor="middle" font-weight="normal" fill="#000" >0.32</text>
<text x="205.9" y="597.0" font-size="13.3" text-anchor="middle" font-weight="normal" fill="#000" >CBF</text>
<text x="43.6" y="615.9" font-size="13.3" text-anchor="start" font-weight="bold" fill="#000" >Variable</text>
<text x="156.3" y="615.9" font-size="13.3" text-anchor="middle" font-weight="bold" fill="#000" >Estimate</text>
<text x="244.0" y="615.9" font-size="13.3" text-anchor="middle" font-weight="bold" fill="#000" >SE</text>
<text x="331.5" y="615.9" font-size="13.3" text-anchor="middle" font-weight="bold" fill="#000" >p-value</text>
<text x="43.6" y="638.4" font-size="13.3" text-anchor="start" font-weight="normal" fill="#000" >Hb</text>
<text x="156.3" y="638.4" font-size="13.3" text-anchor="middle" font-weight="normal" fill="#000" >-5.64</text>
<text x="244.0" y="638.4" font-size="13.3" text-anchor="middle" font-weight="normal" fill="#000" >2.37</text>
<text x="331.5" y="638.4" font-size="13.3" text-anchor="middle" font-weight="bold" fill="#000" >0.01</text>
<text x="43.6" y="657.3" font-size="13.3" text-anchor="start" font-weight="normal" fill="#000" >Hb S %</text>
<text x="156.3" y="657.3" font-size="13.3" text-anchor="middle" font-weight="normal" fill="#000" >0.12</text>
<text x="244.0" y="657.3" font-size="13.3" text-anchor="middle" font-weight="normal" fill="#000" >0.22</text>
<text x="331.5" y="657.3" font-size="13.3" text-anchor="middle" font-weight="normal" fill="#000" >0.58</text>
<text x="43.6" y="676.6" font-size="13.3" text-anchor="start" font-weight="normal" fill="#000" >Age</text>
<text x="156.3" y="676.6" font-size="13.3" text-anchor="middle" font-weight="normal" fill="#000" >-1.83</text>
<text x="244.0" y="676.6" font-size="13.3" text-anchor="middle" font-weight="normal" fill="#000" >0.48</text>
<text x="331.5" y="676.6" font-size="13.3" text-anchor="middle" font-weight="bold" fill="#000" >&lt;0.001</text>
</svg>
</body></html>
